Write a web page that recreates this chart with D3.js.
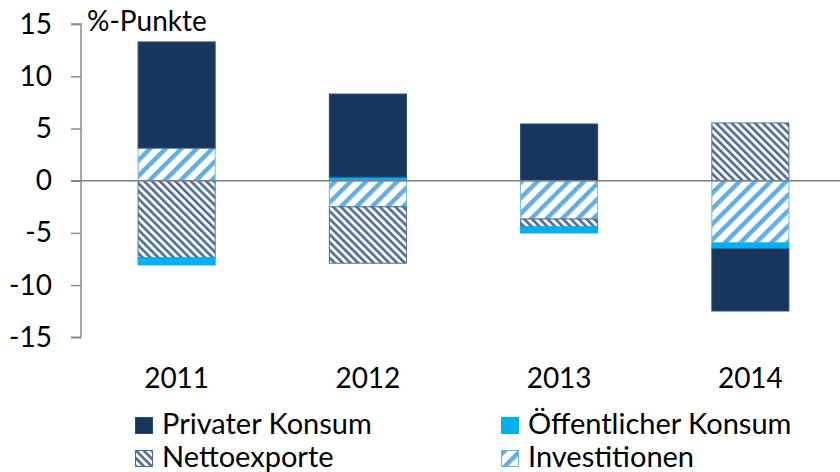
<!DOCTYPE html>
<html lang="de">
<head>
<meta charset="UTF-8">
<title>Wachstumsbeiträge</title>
<script src="https://d3js.org/d3.v7.min.js"></script>
<style>
  body { margin: 0; background: #fff; }
  text { font-family: Lato, "Open Sans", sans-serif; fill: #000; }
</style>
</head>
<body>
<div id="chart"></div>
<script>
// data
const years = ["2011", "2012", "2013", "2014"];
const investitionen = [3.13, -2.5, -3.67, -5.97];
const nettoexporte = [-7.4, -5.4, -0.76, 5.53];
const oeffentlich = [-0.67, 0.35, -0.58, -0.57];
const privat = [10.16, 7.95, 5.43, -5.94];
const yTicks = [15, 10, 5, 0, -5, -10, -15];

// stack order as in the original
const keys = ["inv", "netto", "oeff", "priv"];
const rows = years.map((y, i) => ({
  year: y, inv: investitionen[i], netto: nettoexporte[i],
  oeff: oeffentlich[i], priv: privat[i]
}));

const W = 840, H = 472;
const svg = d3.select("#chart").append("svg")
  .attr("width", W).attr("height", H);

const defs = svg.append("defs");
function stripes(id, size, sw, color, angle) {
  const p = defs.append("pattern")
    .attr("id", id)
    .attr("patternUnits", "userSpaceOnUse")
    .attr("width", size).attr("height", size)
    .attr("patternTransform", `rotate(${angle})`);
  p.append("rect").attr("width", size).attr("height", size).attr("fill", "#fff");
  p.append("rect").attr("width", sw).attr("height", size).attr("fill", color);
}
stripes("pNetto", 5.5, 2.6, "#4a6b9c", -45);
stripes("pInv", 11, 4.5, "#62aee2", 45);

const style = {
  priv: { fill: "#17375e", stroke: "#2a4a72" },
  oeff: { fill: "#00b0f0", stroke: "#00b0f0" },
  netto: { fill: "url(#pNetto)", stroke: "#4a6b9c" },
  inv: { fill: "url(#pInv)", stroke: "#6cb6e6" }
};

const x = d3.scaleBand()
  .domain(years)
  .range([81, 846])
  .paddingInner(0.592)
  .paddingOuter(0.296);

const y = d3.scaleLinear()
  .domain([-15, 15])
  .range([337.3, 24.1]);

const series = d3.stack()
  .keys(keys)
  .offset(d3.stackOffsetDiverging)(rows);

svg.append("g").selectAll("g")
  .data(series)
  .join("g")
  .selectAll("rect")
  .data(s => s.map(d => ({ key: s.key, d })))
  .join("rect")
  .attr("x", v => x(v.d.data.year) + 0.5)
  .attr("width", x.bandwidth() - 1)
  .attr("y", v => y(Math.max(v.d[0], v.d[1])))
  .attr("height", v => Math.abs(y(v.d[0]) - y(v.d[1])))
  .attr("fill", v => style[v.key].fill)
  .attr("stroke", v => style[v.key].stroke)
  .attr("stroke-width", 1);

// y axis
const yAxis = svg.append("g")
  .attr("transform", "translate(81,0)")
  .call(d3.axisLeft(y).tickValues(yTicks).tickSize(10).tickPadding(19)
    .tickFormat(d => String(d)));
yAxis.select(".domain").attr("stroke", "#8c8c8c").attr("stroke-width", 1.5)
  .attr("d", `M-10,${y(15)}H0V${y(-15)}H-10`);
yAxis.selectAll(".tick line").attr("stroke", "#8c8c8c").attr("stroke-width", 1.5);
yAxis.selectAll(".tick text")
  .style("font-family", "Lato, sans-serif")
  .attr("font-size", 28).attr("fill", "#000");

// zero line over the bars
svg.append("line")
  .attr("x1", 71).attr("x2", W)
  .attr("y1", y(0)).attr("y2", y(0))
  .attr("stroke", "#7f7f7f").attr("stroke-width", 1.5);

// unit label
svg.append("text")
  .attr("x", 87).attr("y", 31)
  .attr("font-size", 28).attr("fill", "#333")
  .text("%-Punkte");

// x labels
const xAxis = svg.append("g")
  .attr("transform", "translate(0,388)")
  .call(d3.axisBottom(x).tickSize(0).tickPadding(0));
xAxis.select(".domain").remove();
xAxis.selectAll(".tick text")
  .style("font-family", "Lato, sans-serif")
  .attr("font-size", 28).attr("dy", 0).attr("fill", "#000");

// legend
const legend = [
  { key: "priv", label: "Privater Konsum", x: 135, y: 434 },
  { key: "oeff", label: "Öffentlicher Konsum", x: 501, y: 434 },
  { key: "netto", label: "Nettoexporte", x: 135, y: 467 },
  { key: "inv", label: "Investitionen", x: 501, y: 467 }
];
const lg = svg.append("g").selectAll("g")
  .data(legend).join("g")
  .attr("transform", d => `translate(${d.x},${d.y})`);
lg.append("rect")
  .attr("x", 0.5).attr("y", -16.5)
  .attr("width", 17).attr("height", 16)
  .attr("fill", d => style[d.key].fill)
  .attr("stroke", d => style[d.key].stroke);
lg.append("text")
  .attr("x", 27).attr("y", 0)
  .attr("font-size", 29)
  .text(d => d.label);
</script>
</body>
</html>
